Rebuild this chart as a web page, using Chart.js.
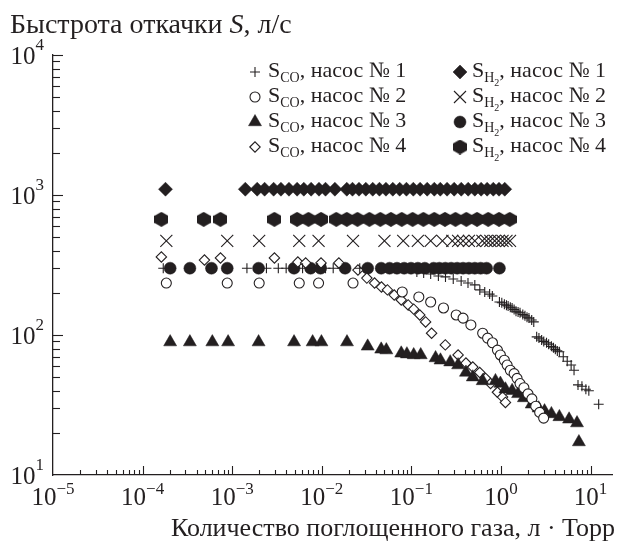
<!DOCTYPE html>
<html><head><meta charset="utf-8">
<script src="https://cdn.jsdelivr.net/npm/chart.js@4.4.1/dist/chart.umd.min.js"></script>
<style>html,body{margin:0;padding:0;background:#fff;}#wrap{position:relative;width:622px;height:542px;}</style>
</head><body><div id="wrap"><canvas id="c" width="622" height="542"></canvas></div>
<script>
// ---- data ----
const coPump1X = [1.70e-4, 1.46e-3, 2.41e-3, 3.27e-3, 4.0e-3, 6.1e-3, 7.5e-3, 8.97e-3, 1.1e-2, 1.34e-2, 1.69e-2, 2.65e-2, 6.43e-2, 0.115, 0.137, 0.164, 0.2, 0.24, 0.293, 0.359, 0.428, 0.51, 0.58, 0.658, 0.746, 0.80, 0.96, 1.02, 1.09, 1.15, 1.2, 1.27, 1.33, 1.4, 1.47, 1.55, 1.63, 1.75, 1.85, 1.95, 2.05, 2.2, 2.32, 2.5, 2.65, 2.84, 3.0, 3.22, 3.4, 3.65, 3.85, 4.04, 4.25, 4.48, 4.95, 5.48, 6.06, 6.53, 7.23, 8.0, 8.85, 9.55, 12.3];
const coPump1Y = [300, 300, 300, 300, 300, 300, 300, 300, 300, 300, 300, 300, 300, 282, 277, 273, 264, 260, 251, 243, 235, 228, 210, 203, 196, 190, 172, 170, 166, 163, 161, 158, 156, 152, 148, 146, 144, 140, 137, 134, 132, 128, 124, 97, 95, 92, 90, 88, 86, 83, 81, 79, 77, 76, 70, 65, 61, 56, 44, 43, 41, 40, 32];

const coPump2X = [1.84e-4, 8.8e-4, 2.0e-3, 5.6e-3, 9.2e-3, 2.23e-2, 7.9e-2, 0.121, 0.164, 0.228, 0.316, 0.377, 0.461, 0.624, 0.708, 0.803, 0.912, 0.984, 1.09, 1.17, 1.27, 1.4, 1.51, 1.63, 1.8, 2.0, 2.21, 2.44, 2.7, 2.99];
const coPump2Y = [235, 235, 235, 235, 235, 235, 203, 187, 172, 156, 139, 132, 118, 103, 95, 88, 78, 72, 66, 61, 56, 53, 49, 45, 42, 38, 35, 31, 28, 25.5];

const coPump3X = [2.03e-4, 3.37e-4, 6.0e-4, 9.0e-4, 1.97e-3, 4.9e-3, 7.9e-3, 9.9e-3, 1.91e-2, 3.25e-2, 4.6e-2, 5.25e-2, 7.7e-2, 8.9e-2, 0.106, 0.127, 0.186, 0.211, 0.271, 0.332, 0.406, 0.484, 0.624, 0.867, 0.984, 1.12, 1.33, 1.55, 1.8, 2.2, 2.63, 3.06, 3.65, 4.48, 5.75, 7.05, 7.4];
const coPump3Y = [89, 89, 89, 89, 89, 89, 89, 89, 89, 83, 79, 78, 74, 73, 72, 72, 68.5, 66, 64, 61, 54, 50, 47, 47, 45, 41, 40, 38, 35.5, 32, 30, 28.6, 27.3, 26, 25, 23.5, 17.2];

const coPump4X = [1.62e-4, 4.9e-4, 7.4e-4, 2.96e-3, 5.4e-3, 6.6e-3, 9.8e-3, 1.55e-2, 2.53e-2, 3.18e-2, 3.88e-2, 4.63e-2, 5.4e-2, 6.43e-2, 7.7e-2, 9.2e-2, 0.106, 0.124, 0.144, 0.168, 0.239, 0.332, 0.406, 0.484, 0.578, 0.673, 0.764, 0.912, 1.04, 1.12];
const coPump4Y = [361, 343, 355, 355, 332, 327, 327, 327, 291, 255, 235, 220, 210, 193, 178, 164, 153, 139, 124, 103, 85, 72, 63, 59, 54, 49, 45, 39, 36, 33];

const h2Pump1X = [1.8e-4, 1.4e-3, 1.9e-3, 2.3e-3, 2.9e-3, 3.5e-3, 4.3e-3, 5.3e-3, 6.3e-3, 7.6e-3, 9.3e-3, 1.1e-2, 1.4e-2, 1.9e-2, 2.2e-2, 2.6e-2, 3.1e-2, 3.7e-2, 4.4e-2, 5.2e-2, 6.2e-2, 7.4e-2, 8.8e-2, 0.105, 0.125, 0.15, 0.18, 0.21, 0.25, 0.3, 0.36, 0.43, 0.51, 0.6, 0.7, 0.82, 0.95, 1.1];
const h2Pump1Y = [1100, 1100, 1100, 1100, 1100, 1100, 1100, 1100, 1100, 1100, 1100, 1100, 1100, 1100, 1100, 1100, 1100, 1100, 1100, 1100, 1100, 1100, 1100, 1100, 1100, 1100, 1100, 1100, 1100, 1100, 1100, 1100, 1100, 1100, 1100, 1100, 1100, 1100];

const h2Pump2X = [1.84e-4, 8.8e-4, 2.0e-3, 5.6e-3, 9.2e-3, 2.23e-2, 5.0e-2, 8.1e-2, 0.118, 0.164, 0.222, 0.286, 0.332, 0.377, 0.438, 0.51, 0.62, 0.69, 0.76, 0.85, 0.94, 1.04, 1.15, 1.26];
const h2Pump2Y = [470, 470, 470, 470, 470, 470, 470, 470, 470, 470, 470, 470, 470, 470, 470, 470, 470, 470, 470, 470, 470, 470, 470, 470];

const h2Pump3X = [2.03e-4, 3.37e-4, 5.87e-4, 8.8e-4, 1.97e-3, 4.9e-3, 7.5e-3, 9.7e-3, 1.82e-2, 3.25e-2, 4.6e-2, 5.7e-2, 6.9e-2, 8.3e-2, 9.9e-2, 0.118, 0.141, 0.177, 0.205, 0.239, 0.278, 0.324, 0.377, 0.438, 0.51, 0.593, 0.69, 0.96];
const h2Pump3Y = [300, 300, 300, 300, 300, 300, 300, 300, 300, 300, 300, 300, 300, 300, 300, 300, 300, 300, 300, 300, 300, 300, 300, 300, 300, 300, 300, 300];

const h2Pump4X = [1.62e-4, 4.8e-4, 7.4e-4, 2.96e-3, 5.3e-3, 7.1e-3, 9.8e-3, 1.45e-2, 1.9e-2, 2.5e-2, 3.4e-2, 4.5e-2, 5.9e-2, 7.8e-2, 0.103, 0.136, 0.18, 0.237, 0.31, 0.41, 0.54, 0.72, 0.95, 1.25];
const h2Pump4Y = [670, 670, 670, 670, 670, 670, 670, 670, 670, 670, 670, 670, 670, 670, 670, 670, 670, 670, 670, 670, 670, 670, 670, 670];

// ---- ticks / texts ----
const xMajorTicks = [1e-5, 1e-4, 1e-3, 1e-2, 1e-1, 1e0, 1e1];
const xTickExponents = ['−5', '−4', '−3', '−2', '−1', '0', '1'];
const yMajorTicks = [1e1, 1e2, 1e3, 1e4];
const yTickExponents = ['1', '2', '3', '4'];
const minorMultipliers = [2, 3, 4, 5, 6, 7, 8, 9];
const seriesSubscripts = ['CO', 'CO', 'CO', 'CO', 'H', 'H', 'H', 'H'];
const seriesPumpNumbers = [1, 2, 3, 4, 1, 2, 3, 4];
const yTitleParts = ['Быстрота откачки ', 'S', ', л/с'];
const xTitle = 'Количество поглощенного газа, л · Торр';

const INK = '#231f20';
const SERIF = '"Liberation Serif", "DejaVu Serif", serif';

function makeHex(w, h) {
  const c = document.createElement('canvas');
  c.width = w; c.height = h;
  const g = c.getContext('2d');
  g.fillStyle = INK;
  g.beginPath();
  g.moveTo(w / 2, 0);
  g.lineTo(w, h * 0.26);
  g.lineTo(w, h * 0.74);
  g.lineTo(w / 2, h);
  g.lineTo(0, h * 0.74);
  g.lineTo(0, h * 0.26);
  g.closePath();
  g.fill();
  return c;
}
const hexImg = makeHex(14, 15);

function pts(xs, ys) { return xs.map((v, i) => ({x: v, y: ys[i]})); }

const seriesStyles = [
  {pointStyle: 'cross', radius: 5, bg: INK, border: INK, bw: 1.1},
  {pointStyle: 'circle', radius: 5, bg: '#fff', border: INK, bw: 1.1},
  {pointStyle: 'triangle', radius: 7.5, bg: INK, border: INK, bw: 0.5},
  {pointStyle: 'rectRot', radius: 5.2, bg: '#fff', border: INK, bw: 1.1},
  {pointStyle: 'rectRot', radius: 7, bg: INK, border: INK, bw: 0.5},
  {pointStyle: 'crossRot', radius: 8.5, bg: INK, border: INK, bw: 1.1},
  {pointStyle: 'circle', radius: 6, bg: INK, border: INK, bw: 0.5},
  {pointStyle: hexImg, radius: 7, bg: INK, border: INK, bw: 0}
];
const seriesData = [
  pts(coPump1X, coPump1Y), pts(coPump2X, coPump2Y), pts(coPump3X, coPump3Y), pts(coPump4X, coPump4Y),
  pts(h2Pump1X, h2Pump1Y), pts(h2Pump2X, h2Pump2Y), pts(h2Pump3X, h2Pump3Y), pts(h2Pump4X, h2Pump4Y)
];

const datasets = seriesData.map((d, i) => ({
  label: 'S' + seriesSubscripts[i] + ', насос № ' + seriesPumpNumbers[i],
  data: d,
  pointStyle: seriesStyles[i].pointStyle,
  pointRadius: seriesStyles[i].radius,
  pointHoverRadius: seriesStyles[i].radius,
  backgroundColor: seriesStyles[i].bg,
  borderColor: seriesStyles[i].border,
  pointBorderWidth: seriesStyles[i].bw,
  borderWidth: seriesStyles[i].bw,
  showLine: false,
  clip: false
}));

function drawPower(ctx, exp, x, baseY, align, bigSize, smallSize, rise) {
  ctx.font = bigSize + 'px ' + SERIF;
  const wb = ctx.measureText('10').width;
  ctx.font = smallSize + 'px ' + SERIF;
  const we = ctx.measureText(exp).width;
  let start = x;
  if (align === 'center') start = x - (wb + we) / 2;
  else if (align === 'right') start = x - (wb + we);
  ctx.textAlign = 'left';
  ctx.textBaseline = 'alphabetic';
  ctx.font = bigSize + 'px ' + SERIF;
  ctx.fillText('10', start, baseY);
  ctx.font = smallSize + 'px ' + SERIF;
  ctx.fillText(exp, start + wb, baseY - rise);
}

const overlay = {
  id: 'overlay',
  afterDraw(chart) {
    const {ctx, chartArea: ca} = chart;
    const xs = chart.scales.x, ys = chart.scales.y;
    ctx.save();
    ctx.strokeStyle = INK;
    ctx.fillStyle = INK;
    ctx.lineWidth = 1.1;
    const seg = (x1, y1, x2, y2) => { ctx.beginPath(); ctx.moveTo(x1, y1); ctx.lineTo(x2, y2); ctx.stroke(); };
    // x ticks (inward)
    xMajorTicks.forEach((v, i) => {
      const px = Math.round(xs.getPixelForValue(v)) + 0.5;
      if (i > 0) seg(px, ca.bottom, px, ca.bottom - 9);
      if (i < xMajorTicks.length - 1) {
        minorMultipliers.forEach(m => {
          const p = Math.round(xs.getPixelForValue(v * m)) + 0.5;
          seg(p, ca.bottom, p, ca.bottom - 5);
        });
      }
      drawPower(ctx, xTickExponents[i], xs.getPixelForValue(v), ca.bottom + 30, 'center', 25, 17, 11);
    });
    // y ticks (inward)
    yMajorTicks.forEach((v, i) => {
      const py = Math.round(ys.getPixelForValue(v)) + 0.5;
      if (i > 0) seg(ca.left, py, ca.left + 10, py);
      if (i < yMajorTicks.length - 1) {
        minorMultipliers.forEach(m => {
          const p = Math.round(ys.getPixelForValue(v * m)) + 0.5;
          seg(ca.left, p, ca.left + 7, p);
        });
      }
      drawPower(ctx, yTickExponents[i], ca.left - 9, ys.getPixelForValue(v) + 9, 'right', 25, 17, 14);
    });
    // y title
    ctx.textAlign = 'left';
    ctx.textBaseline = 'alphabetic';
    let tx = 10;
    ctx.font = '28px ' + SERIF;
    ctx.fillText(yTitleParts[0], tx, 33);
    tx += ctx.measureText(yTitleParts[0]).width;
    ctx.font = 'italic 28px ' + SERIF;
    ctx.fillText(yTitleParts[1], tx, 33);
    tx += ctx.measureText(yTitleParts[1]).width;
    ctx.font = '28px ' + SERIF;
    ctx.fillText(yTitleParts[2], tx, 33);
    // x title
    ctx.font = '26px ' + SERIF;
    ctx.textAlign = 'right';
    ctx.fillText(xTitle, 615, 536);
    // legend
    const colMarkX = [255, 460];
    const colTextX = [268, 472];
    const rowY = [72, 97, 122, 147];
    datasets.forEach((ds, i) => {
      const col = i < 4 ? 0 : 1;
      const row = i % 4;
      const st = seriesStyles[i];
      const my = rowY[row];
      ctx.fillStyle = st.bg;
      ctx.strokeStyle = st.border;
      ctx.lineWidth = st.bw || 1;
      if (st.pointStyle instanceof HTMLCanvasElement) {
        ctx.drawImage(st.pointStyle, colMarkX[col] - st.pointStyle.width / 2, my - st.pointStyle.height / 2);
      } else {
        Chart.helpers.drawPoint(ctx, {pointStyle: st.pointStyle, radius: st.radius, rotation: 0, borderWidth: st.bw}, colMarkX[col], my);
      }
      ctx.fillStyle = INK;
      ctx.textAlign = 'left';
      const base = my + 5;
      let x = colTextX[col];
      ctx.font = '22px ' + SERIF;
      ctx.fillText('S', x, base);
      x += ctx.measureText('S').width;
      ctx.font = '14px ' + SERIF;
      ctx.fillText(seriesSubscripts[i], x, base + 5);
      x += ctx.measureText(seriesSubscripts[i]).width;
      if (col === 1) {
        ctx.font = '10px ' + SERIF;
        ctx.fillText('2', x, base + 9);
        x += ctx.measureText('2').width;
      }
      ctx.font = '22px ' + SERIF;
      ctx.fillText(', насос № ' + seriesPumpNumbers[i], x, base);
    });
    ctx.restore();
  }
};

new Chart(document.getElementById('c'), {
  type: 'scatter',
  data: {datasets},
  options: {
    responsive: false,
    animation: false,
    devicePixelRatio: 1,
    layout: {padding: {left: 53, right: 0, top: 55, bottom: 67}},
    plugins: {legend: {display: false}, tooltip: {enabled: false}, title: {display: false}},
    scales: {
      x: {
        type: 'logarithmic', min: 1e-5, max: 17.5,
        border: {display: true, color: INK, width: 1.3},
        grid: {display: false, drawTicks: false},
        ticks: {display: false}
      },
      y: {
        type: 'logarithmic', min: 10, max: 10000,
        border: {display: true, color: INK, width: 1.3},
        grid: {display: false, drawTicks: false},
        ticks: {display: false}
      }
    }
  },
  plugins: [overlay]
});
</script>
</body></html>
